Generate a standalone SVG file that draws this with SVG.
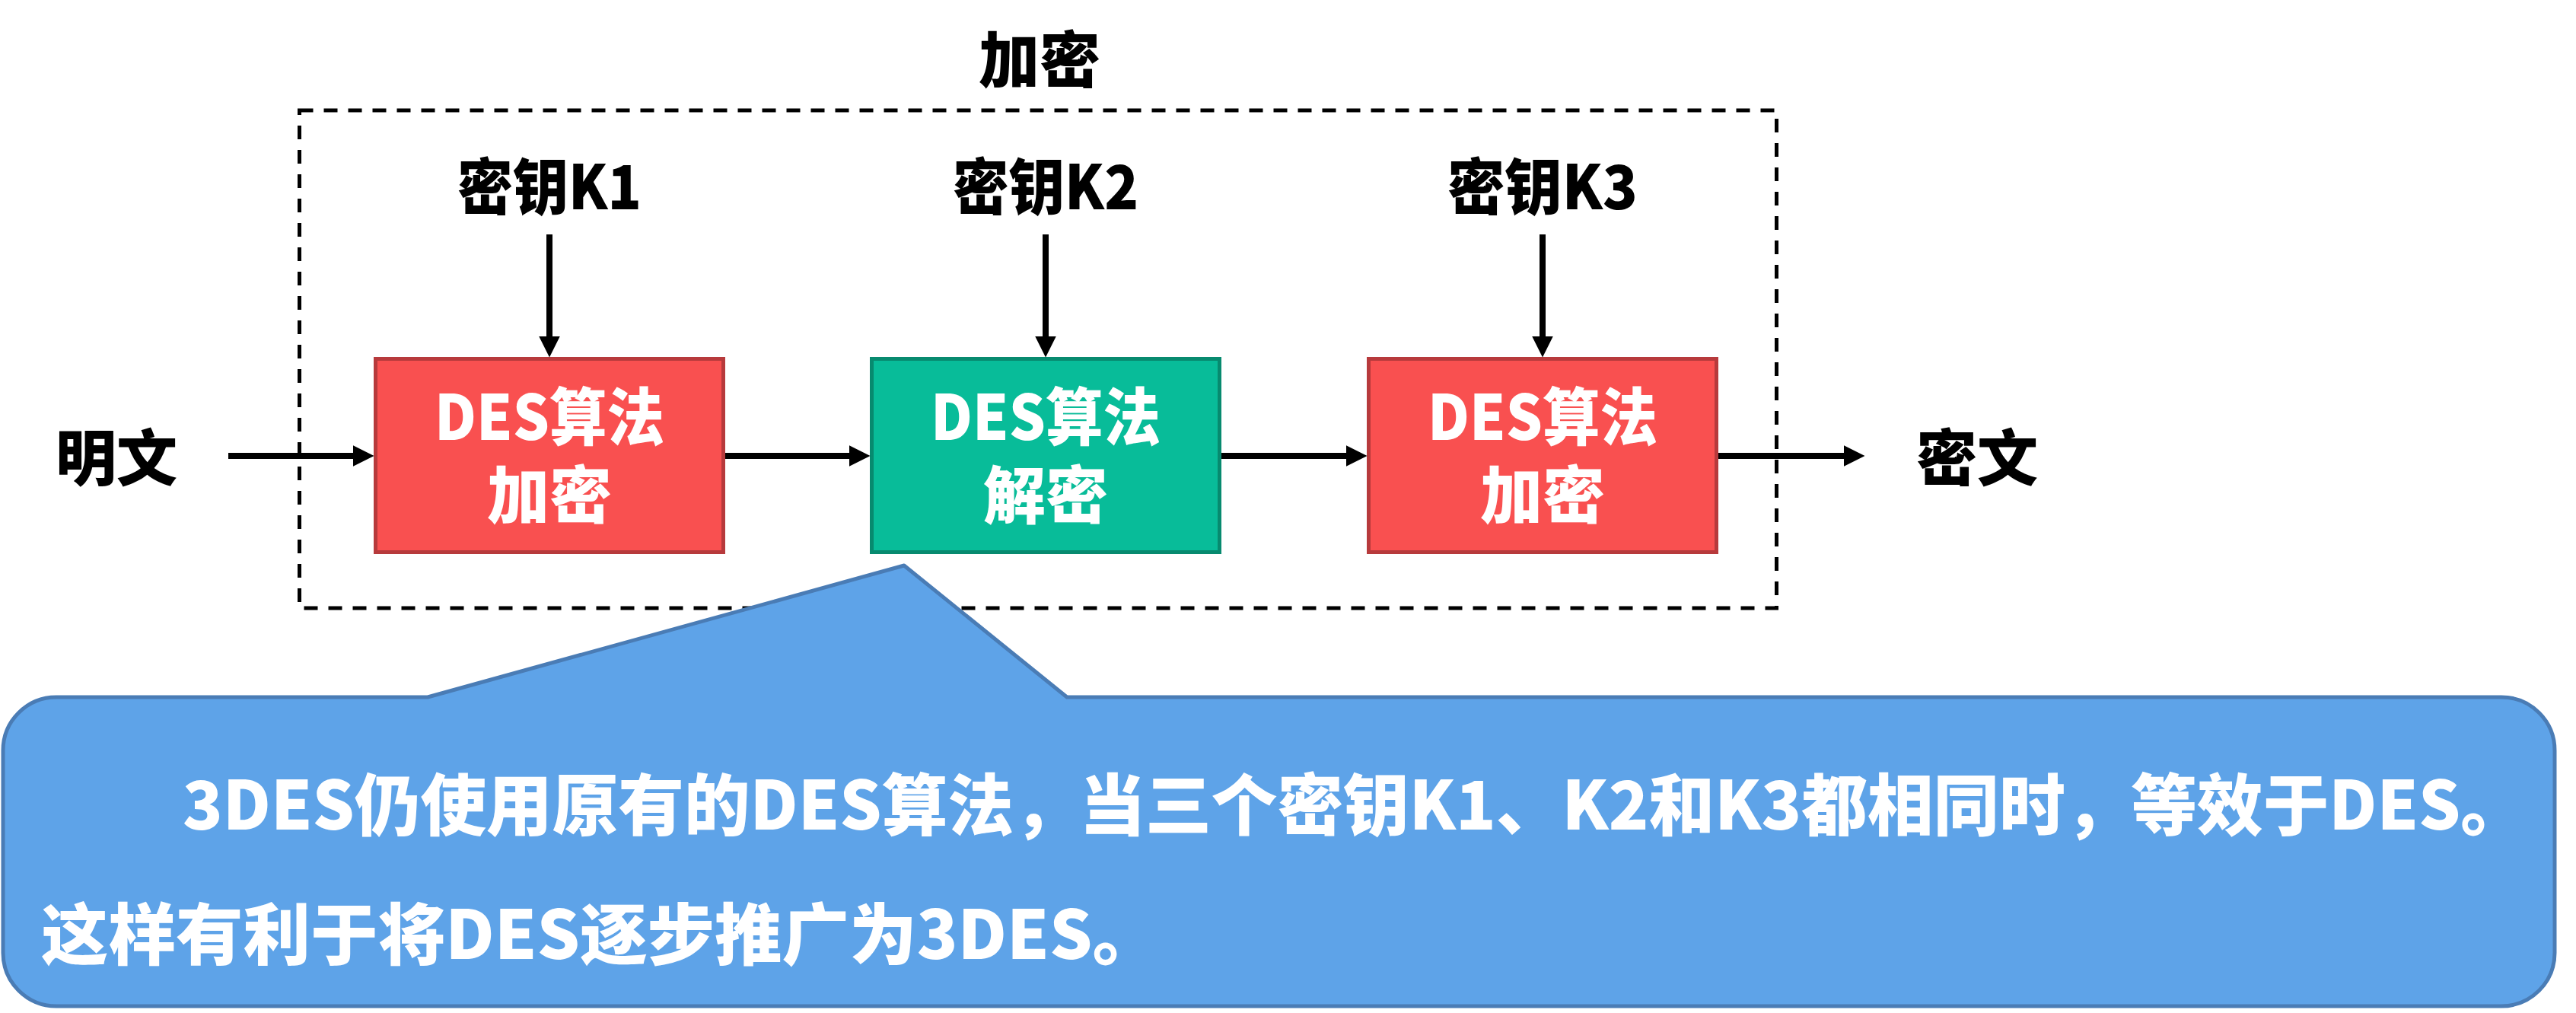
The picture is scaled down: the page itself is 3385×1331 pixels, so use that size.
<svg xmlns="http://www.w3.org/2000/svg" width="3385" height="1331" viewBox="0 0 3385 1331">
  <style>
    .t { font-family: "Noto Sans CJK SC", "Liberation Sans", sans-serif; font-weight: 900; }
    .lbl { fill: #000000; font-size: 80px; text-anchor: middle; }
    .box-t { fill: #FFFFFF; font-size: 82px; text-anchor: middle; }
    .note-t { fill: #FFFFFF; font-size: 88px; }
    .red { fill: #F95050; stroke: #B73A3C; stroke-width: 5; }
    .green { fill: #08BC99; stroke: #078A6F; stroke-width: 5; }
    .conn { stroke: #000000; stroke-width: 8; fill: none; marker-end: url(#ah); }
    .frame { fill: none; stroke: #000000; stroke-width: 5; stroke-dasharray: 18 14; }
    .callout { fill: #5EA3E8; stroke: #4A7CB5; stroke-width: 5; stroke-linejoin: round; }
  </style>
  <defs>
    <marker id="ah" markerUnits="userSpaceOnUse" markerWidth="28" markerHeight="28" viewBox="0 0 27 27" refX="13" refY="13.5" orient="auto">
      <path d="M0,0 L27,13.5 L0,27 Z" fill="#000000"/>
    </marker>
  </defs>
  <rect width="3385" height="1331" fill="#FFFFFF"/>

  <g id="frame-encrypt">
    <rect class="frame" x="393.5" y="145" width="1941" height="654"/>
    <text class="t lbl" x="1366" y="108">加密</text>
  </g>

  <g id="key1"><text class="t lbl" x="722" y="275" textLength="242" lengthAdjust="spacingAndGlyphs">密钥K1</text></g>
  <g id="key2"><text class="t lbl" x="1374" y="275" textLength="244" lengthAdjust="spacingAndGlyphs">密钥K2</text></g>
  <g id="key3"><text class="t lbl" x="2027" y="275" textLength="250" lengthAdjust="spacingAndGlyphs">密钥K3</text></g>

  <g id="plaintext"><text class="t lbl" x="153" y="631">明文</text></g>
  <g id="ciphertext"><text class="t lbl" x="2598" y="631">密文</text></g>

  <g id="des1">
    <rect class="red" x="493.5" y="471.5" width="457" height="254"/>
    <text class="t box-t"><tspan x="722" y="578" textLength="302" lengthAdjust="spacingAndGlyphs">DES算法</tspan><tspan x="722" y="681">加密</tspan></text>
  </g>
  <g id="des2">
    <rect class="green" x="1145.5" y="471.5" width="457" height="254"/>
    <text class="t box-t"><tspan x="1374" y="578" textLength="302" lengthAdjust="spacingAndGlyphs">DES算法</tspan><tspan x="1374" y="681">解密</tspan></text>
  </g>
  <g id="des3">
    <rect class="red" x="1798.5" y="471.5" width="457" height="254"/>
    <text class="t box-t"><tspan x="2027" y="578" textLength="302" lengthAdjust="spacingAndGlyphs">DES算法</tspan><tspan x="2027" y="681">加密</tspan></text>
  </g>

  <g id="connectors">
    <line class="conn" x1="300" y1="599" x2="477" y2="599"/>
    <line class="conn" x1="953" y1="599" x2="1129" y2="599"/>
    <line class="conn" x1="1605" y1="599" x2="1782" y2="599"/>
    <line class="conn" x1="2258" y1="599" x2="2436" y2="599"/>
    <line class="conn" x1="722" y1="308" x2="722" y2="455"/>
    <line class="conn" x1="1374" y1="308" x2="1374" y2="455"/>
    <line class="conn" x1="2027" y1="308" x2="2027" y2="455"/>
  </g>

  <g id="note">
    <path class="callout" d="M74,916 L562,916 L1188,743 L1402,916 L3287,916 A70,70 0 0 1 3357,986 L3357,1252 A70,70 0 0 1 3287,1322 L74,1322 A70,70 0 0 1 4,1252 L4,986 A70,70 0 0 1 74,916 Z"/>
    <text class="t note-t" x="240" y="1090" textLength="3080" lengthAdjust="spacingAndGlyphs">3DES仍使用原有的DES算法，当三个密钥K1、K2和K3都相同时，等效于DES。</text>
    <text class="t note-t" x="54" y="1260" textLength="1470" lengthAdjust="spacingAndGlyphs">这样有利于将DES逐步推广为3DES。</text>
  </g>
</svg>
